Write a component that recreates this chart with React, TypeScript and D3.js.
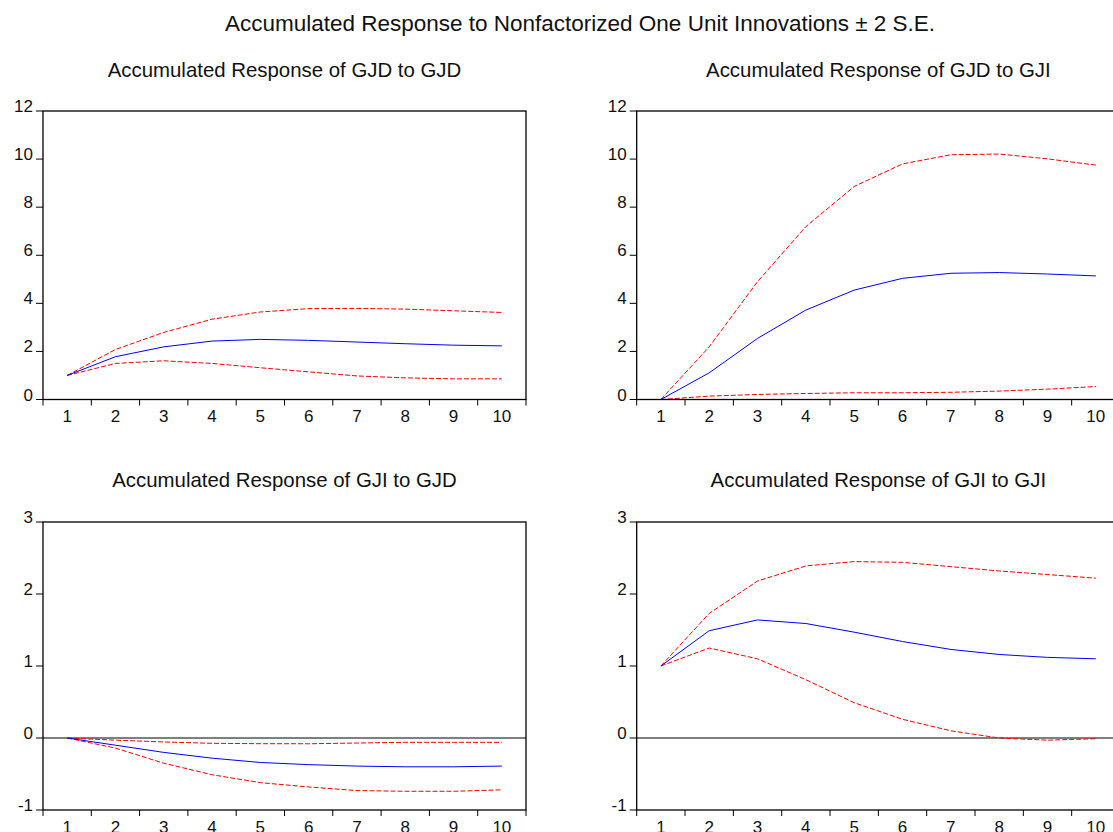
import React from "react";
import * as d3 from "d3";

const periods = [1, 2, 3, 4, 5, 6, 7, 8, 9, 10];

const gjdGjdResp = [1.0, 1.78, 2.19, 2.43, 2.5, 2.46, 2.39, 2.32, 2.26, 2.23];
const gjdGjdUpper = [1.0, 2.08, 2.79, 3.34, 3.64, 3.78, 3.79, 3.76, 3.69, 3.62];
const gjdGjdLower = [1.0, 1.5, 1.61, 1.5, 1.32, 1.15, 0.98, 0.9, 0.86, 0.86];

const gjdGjiResp = [0, 1.11, 2.54, 3.72, 4.55, 5.04, 5.25, 5.28, 5.22, 5.14];
const gjdGjiUpper = [0, 2.19, 4.9, 7.19, 8.86, 9.8, 10.18, 10.21, 10.01, 9.75];
const gjdGjiLower = [0, 0.14, 0.21, 0.25, 0.28, 0.28, 0.3, 0.35, 0.43, 0.54];

const gjiGjdResp = [0, -0.1, -0.2, -0.28, -0.34, -0.37, -0.39, -0.4, -0.4, -0.39];
const gjiGjdUpper = [0, -0.03, -0.055, -0.074, -0.079, -0.08, -0.07, -0.06, -0.06, -0.06];
const gjiGjdLower = [0, -0.14, -0.35, -0.51, -0.62, -0.68, -0.73, -0.74, -0.74, -0.72];

const gjiGjiResp = [1.0, 1.49, 1.64, 1.59, 1.47, 1.34, 1.23, 1.16, 1.12, 1.1];
const gjiGjiUpper = [1.0, 1.73, 2.18, 2.39, 2.45, 2.44, 2.38, 2.32, 2.27, 2.22];
const gjiGjiLower = [1.0, 1.25, 1.1, 0.81, 0.49, 0.26, 0.1, 0.0, -0.03, -0.01];

const topYTicks = [0, 2, 4, 6, 8, 10, 12];
const bottomYTicks = [-1, 0, 1, 2, 3];

const mainTitle = "Accumulated Response to Nonfactorized One Unit Innovations ± 2 S.E.";
const panelTitles = [
  "Accumulated Response of GJD to GJD",
  "Accumulated Response of GJD to GJI",
  "Accumulated Response of GJI to GJD",
  "Accumulated Response of GJI to GJI",
];

const FONT = "'Liberation Sans', Arial, Helvetica, sans-serif";

type PanelProps = {
  left: number;
  right: number;
  top: number;
  bottom: number;
  yDomain: [number, number];
  yTicks: number[];
  resp: number[];
  upper: number[];
  lower: number[];
  title: string;
  titleY: number;
  zeroLine: boolean;
};

function Panel(p: PanelProps) {
  const x = d3.scaleLinear().domain([0.5, periods.length + 0.5]).range([p.left, p.right]);
  const y = d3.scaleLinear().domain(p.yDomain).range([p.bottom, p.top]);
  const line = d3
    .line<number>()
    .x((_, i) => x(periods[i]))
    .y((d) => y(d));
  const xTickPos = d3.range(0.5, periods.length + 1, 1);
  return (
    <g>
      <text
        x={(p.left + p.right) / 2}
        y={p.titleY}
        textAnchor="middle"
        fontFamily={FONT}
        fontSize={20.4}
        fill="#111"
      >
        {p.title}
      </text>
      {p.zeroLine && (
        <line x1={p.left} x2={p.right} y1={y(0)} y2={y(0)} stroke="#000" strokeWidth={1.2} />
      )}
      <path d={line(p.upper) || ""} fill="none" stroke="#ff0000" strokeWidth={1} strokeDasharray="5,2" />
      <path d={line(p.lower) || ""} fill="none" stroke="#ff0000" strokeWidth={1} strokeDasharray="5,2" />
      <path d={line(p.resp) || ""} fill="none" stroke="#0000ff" strokeWidth={1} />
      <rect
        x={p.left}
        y={p.top}
        width={p.right - p.left}
        height={p.bottom - p.top}
        fill="none"
        stroke="#000"
        strokeWidth={1.3}
      />
      {p.yTicks.map((t) => (
        <g key={"y" + t}>
          <line x1={p.left - 7} x2={p.left} y1={y(t)} y2={y(t)} stroke="#000" strokeWidth={1} />
          <text
            x={p.left - 10}
            y={y(t) + 1}
            textAnchor="end"
            fontFamily={FONT}
            fontSize={17}
            fill="#111"
          >
            {t}
          </text>
        </g>
      ))}
      {xTickPos.map((t) => (
        <line key={"xt" + t} x1={x(t)} x2={x(t)} y1={p.bottom} y2={p.bottom + 6} stroke="#000" strokeWidth={1} />
      ))}
      {periods.map((d) => (
        <text
          key={"xl" + d}
          x={x(d)}
          y={p.bottom + 22.5}
          textAnchor="middle"
          fontFamily={FONT}
          fontSize={17}
          fill="#111"
        >
          {d}
        </text>
      ))}
    </g>
  );
}

export default function App() {
  const leftL = 43;
  const leftR = 526;
  const rightL = 636.7;
  const rightR = 1120;
  return (
    <svg
      width={1113}
      height={832}
      style={{ position: "absolute", left: 0, top: 0, background: "#fff", overflow: "hidden" }}
    >
      <rect x={0} y={0} width={1113} height={832} fill="#fff" />
      <text x={580} y={31} textAnchor="middle" fontFamily={FONT} fontSize={22.5} fill="#111">
        {mainTitle}
      </text>
      <Panel
        left={leftL}
        right={leftR}
        top={111}
        bottom={399.5}
        yDomain={[0, 12]}
        yTicks={topYTicks}
        resp={gjdGjdResp}
        upper={gjdGjdUpper}
        lower={gjdGjdLower}
        title={panelTitles[0]}
        titleY={77}
        zeroLine={false}
      />
      <Panel
        left={rightL}
        right={rightR}
        top={111}
        bottom={399.5}
        yDomain={[0, 12]}
        yTicks={topYTicks}
        resp={gjdGjiResp}
        upper={gjdGjiUpper}
        lower={gjdGjiLower}
        title={panelTitles[1]}
        titleY={77}
        zeroLine={false}
      />
      <Panel
        left={leftL}
        right={leftR}
        top={522}
        bottom={810}
        yDomain={[-1, 3]}
        yTicks={bottomYTicks}
        resp={gjiGjdResp}
        upper={gjiGjdUpper}
        lower={gjiGjdLower}
        title={panelTitles[2]}
        titleY={487}
        zeroLine={true}
      />
      <Panel
        left={rightL}
        right={rightR}
        top={522}
        bottom={810}
        yDomain={[-1, 3]}
        yTicks={bottomYTicks}
        resp={gjiGjiResp}
        upper={gjiGjiUpper}
        lower={gjiGjiLower}
        title={panelTitles[3]}
        titleY={487}
        zeroLine={true}
      />
    </svg>
  );
}
